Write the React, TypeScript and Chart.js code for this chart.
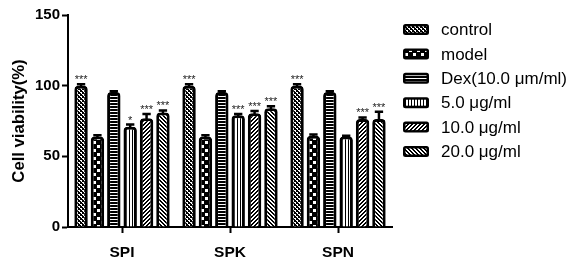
import React, { useEffect, useRef } from 'react';
import { Chart, registerables } from 'chart.js';

Chart.register(...registerables);

const categories = ['SPI', 'SPK', 'SPN'];
const seriesNames = ['control', 'model', 'Dex(10.0 μm/ml)', '5.0 μg/ml', '10.0 μg/ml', '20.0 μg/ml'];

const controlValues = [100, 100, 100];
const modelValues = [64, 64, 64.5];
const dexValues = [95.5, 95.5, 95.5];
const dose5Values = [71, 79, 64];
const dose10Values = [77, 80.5, 76.5];
const dose20Values = [81, 84, 76.5];

const controlErrors = [1, 1, 1];
const modelErrors = [1, 1, 1];
const dexErrors = [0.5, 0.5, 0.5];
const dose5Errors = [1.5, 1, 0.5];
const dose10Errors = [3, 1.5, 1];
const dose20Errors = [1.5, 1.5, 5];

const controlSig = ['***', '***', '***'];
const modelSig = ['', '', ''];
const dexSig = ['', '', ''];
const dose5Sig = ['*', '***', ''];
const dose10Sig = ['***', '***', '***'];
const dose20Sig = ['***', '***', '***'];

const yTickValues = [0, 50, 100, 150];

const FONT = '"Liberation Sans", Arial, sans-serif';

function makePattern(kind: string): CanvasPattern | string {
  const c = document.createElement('canvas');
  const ctx = c.getContext('2d')!;
  const px = (x: number, y: number, w = 1, h = 1) => ctx.fillRect(x, y, w, h);
  if (kind === 'control') {
    c.width = 4; c.height = 4;
    ctx.fillStyle = '#000'; ctx.fillRect(0, 0, 4, 4);
    ctx.fillStyle = '#fff';
    px(0, 0, 2, 1); px(1, 1); px(2, 2, 2, 1); px(3, 3);
  } else if (kind === 'model') {
    c.width = 8; c.height = 8;
    ctx.fillStyle = '#000'; ctx.fillRect(0, 0, 8, 8);
    ctx.fillStyle = '#fff';
    px(1, 1, 3, 3); px(5, 5, 3, 3);
  } else if (kind === 'dex') {
    c.width = 3; c.height = 3;
    ctx.fillStyle = '#000'; ctx.fillRect(0, 0, 3, 3);
    ctx.fillStyle = '#fff'; px(0, 0, 3, 1);
  } else if (kind === 'd5') {
    c.width = 3; c.height = 3;
    ctx.fillStyle = '#fff'; ctx.fillRect(0, 0, 3, 3);
    ctx.fillStyle = '#000'; px(0, 0, 1, 3);
  } else if (kind === 'd10') {
    c.width = 4; c.height = 4;
    ctx.fillStyle = '#fff'; ctx.fillRect(0, 0, 4, 4);
    ctx.fillStyle = '#000';
    for (let i = 0; i < 4; i++) { px(i, 3 - i); px(i, (4 - i) % 4); }
  } else {
    c.width = 4; c.height = 4;
    ctx.fillStyle = '#fff'; ctx.fillRect(0, 0, 4, 4);
    ctx.fillStyle = '#000';
    for (let i = 0; i < 4; i++) { px(i, i); px(i, (i + 1) % 4); }
  }
  const p = ctx.createPattern(c, 'repeat');
  return p || '#888';
}

export default function App() {
  const canvasRef = useRef<HTMLCanvasElement | null>(null);

  useEffect(() => {
    const canvas = canvasRef.current;
    if (!canvas) return;
    const kinds = ['control', 'model', 'dex', 'd5', 'd10', 'd20'];
    const patterns = kinds.map(makePattern);
    const values = [controlValues, modelValues, dexValues, dose5Values, dose10Values, dose20Values];
    const errors = [controlErrors, modelErrors, dexErrors, dose5Errors, dose10Errors, dose20Errors];
    const sigs = [controlSig, modelSig, dexSig, dose5Sig, dose10Sig, dose20Sig];

    const errorPlugin = {
      id: 'errorBarsAndStars',
      afterDatasetsDraw(chart: any) {
        const ctx = chart.ctx;
        const yScale = chart.scales.y;
        ctx.save();
        chart.data.datasets.forEach((ds: any, di: number) => {
          const meta = chart.getDatasetMeta(di);
          meta.data.forEach((bar: any, i: number) => {
            const v = values[di][i];
            const e = errors[di][i];
            const yTop = yScale.getPixelForValue(v + e);
            const yVal = yScale.getPixelForValue(v);
            const x = bar.x;
            const capW = bar.width * 0.62;
            ctx.strokeStyle = '#000';
            ctx.lineWidth = 2.5;
            ctx.beginPath();
            ctx.moveTo(x, yVal + 2);
            ctx.lineTo(x, yTop);
            ctx.moveTo(x - capW / 2, yTop);
            ctx.lineTo(x + capW / 2, yTop);
            ctx.stroke();
            const s = sigs[di][i];
            if (s) {
              ctx.fillStyle = '#222';
              ctx.font = `11px ${FONT}`;
              ctx.textAlign = 'center';
              ctx.textBaseline = 'alphabetic';
              ctx.fillText(s, x, yTop - 1);
            }
          });
        });
        ctx.restore();
      },
    };

    const legendPlugin = {
      id: 'customLegend',
      afterDraw(chart: any) {
        const ctx = chart.ctx;
        ctx.save();
        seriesNames.forEach((name, i) => {
          const cy = 29.5 + i * 24.4;
          const bx = 403, bw = 26, bh = 11;
          const by = cy - bh / 2;
          ctx.fillStyle = '#000';
          ctx.beginPath();
          (ctx as any).roundRect(bx, by, bw, bh, 2.5);
          ctx.fill();
          ctx.fillStyle = patterns[i];
          ctx.fillRect(bx + 2.5, by + 2.5, bw - 5, bh - 5);
          ctx.fillStyle = '#000';
          ctx.font = `17px ${FONT}`;
          ctx.textAlign = 'left';
          ctx.textBaseline = 'middle';
          ctx.fillText(name, 441, cy + 1);
        });
        ctx.restore();
      },
    };

    const chart = new Chart(canvas, {
      type: 'bar',
      data: {
        labels: categories,
        datasets: seriesNames.map((name, i) => ({
          label: name,
          data: values[i],
          backgroundColor: patterns[i] as any,
          borderColor: '#000',
          borderWidth: 3,
          borderRadius: { topLeft: 4, topRight: 4, bottomLeft: 0, bottomRight: 0 },
          borderSkipped: 'bottom' as const,
          categoryPercentage: 0.91,
          barPercentage: 0.82,
        })),
      },
      options: {
        responsive: false,
        animation: false,
        layout: { padding: { left: 0, right: 179, top: 15, bottom: 0 } },
        plugins: {
          legend: { display: false },
          tooltip: { enabled: false },
        },
        scales: {
          x: {
            type: 'category',
            grid: { display: true, drawOnChartArea: false, offset: false, tickLength: 6, tickColor: '#000', tickWidth: 2 },
            border: { display: true, color: '#000', width: 2 },
            ticks: { color: '#000', font: { family: FONT, size: 15.5, weight: 'bold' }, padding: 10 },
            afterFit(scale: any) { scale.height = 38; },
          },
          y: {
            min: 0,
            max: 150,
            afterBuildTicks(scale: any) { scale.ticks = yTickValues.map((v) => ({ value: v })); },
            grid: { display: true, drawOnChartArea: false, tickLength: 6, tickColor: '#000', tickWidth: 2 },
            border: { display: true, color: '#000', width: 2 },
            ticks: { color: '#000', font: { family: FONT, size: 15, weight: 'bold' }, padding: 2 },
            title: {
              display: true,
              text: 'Cell viability(%)',
              color: '#000',
              font: { family: FONT, size: 16.7, weight: 'bold' },
              padding: { top: 9, bottom: 0 },
            },
            afterFit(scale: any) { scale.width = 68; },
          },
        },
      },
      plugins: [errorPlugin, legendPlugin],
    });
    return () => chart.destroy();
  }, []);

  return (
    <div style={{ position: 'fixed', left: 0, top: 0, width: 571, height: 265, background: '#fff' }}>
      <canvas ref={canvasRef} width={571} height={265} style={{ width: 571, height: 265, display: 'block' }} />
    </div>
  );
}
